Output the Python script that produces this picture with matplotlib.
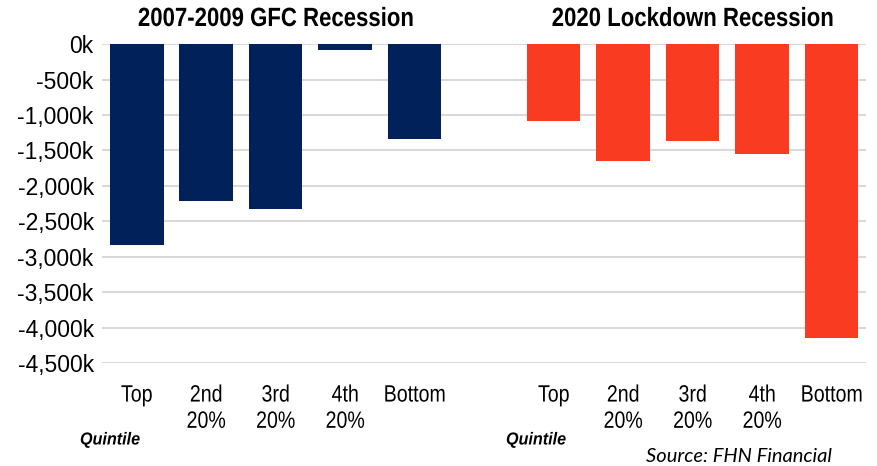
import matplotlib
matplotlib.use("Agg")
import matplotlib.pyplot as plt
from matplotlib.patheffects import AbstractPathEffect
from matplotlib.transforms import Affine2D
import numpy as np

# ---- data ----
categories = ["Top", "2nd\n20%", "3rd\n20%", "4th\n20%", "Bottom"]
gfc_values = [-2830, -2220, -2320, -80, -1340]          # thousands
lockdown_values = [-1080, -1650, -1370, -1550, -4150]   # thousands
yticks = [0, -500, -1000, -1500, -2000, -2500, -3000, -3500, -4000, -4500]
titles = ["2007-2009 GFC Recession", "2020 Lockdown Recession"]
source = "Source: FHN Financial"

font = "Liberation Sans"
navy = "#00215A"
red = "#F93B22"


class Squeeze(AbstractPathEffect):
    """Horizontally condense text around a display x position (narrow font look)."""
    def __init__(self, sx, cx):
        super().__init__()
        self.sx = sx
        self.cx = cx

    def draw_path(self, renderer, gc, tpath, affine, rgbFace=None):
        t = affine + Affine2D().translate(-self.cx, 0).scale(self.sx, 1).translate(self.cx, 0)
        renderer.draw_path(gc, tpath, t, rgbFace)


W, H = 877, 466
fig = plt.figure(figsize=(W / 100, H / 100), dpi=100)
ax = fig.add_axes([0.1163, 0.221, 0.8717, 0.6844])

n = len(categories)
x_gfc = np.arange(n)
x_lock = np.arange(n) + n + 1
ax.bar(x_gfc, gfc_values, width=0.77, color=navy, zorder=3)
ax.bar(x_lock, lockdown_values, width=0.77, color=red, zorder=3)

ax.set_xlim(-0.5, 2 * n + 0.5)
ax.set_ylim(-4500, 0)
ax.set_yticks(yticks)
ax.set_yticklabels([f"{v:,}k" for v in yticks], fontsize=16.5, family=font, color="black")
xpos = list(x_gfc) + list(x_lock)
ax.set_xticks(xpos)
ax.set_xticklabels(categories * 2, fontsize=17, family=font, color="black",
                   linespacing=1.25, va="top")
ax.tick_params(axis="x", length=0, pad=15.5)
ax.tick_params(axis="y", length=0, pad=6)
for s in ax.spines.values():
    s.set_visible(False)
ax.grid(axis="y", color="#D9D9D9", linewidth=1.5, zorder=0)
ax.set_axisbelow(True)

# condense x tick labels
for lbl, xp in zip(ax.get_xticklabels(), xpos):
    cx = ax.transData.transform((xp, 0))[0]
    lbl.set_path_effects([Squeeze(0.83, cx)])

# titles
for title, xc in [(titles[0], 2), (titles[1], n + 1 + 2)]:
    cx = ax.transData.transform((xc, 0))[0]
    t = fig.text(cx / W, 1 - 19 / H, title, ha="center", va="center", fontsize=19,
                 fontweight="bold", family=font)
    t.set_path_effects([Squeeze(0.84, cx)])

# Quintile labels
for xl in (80, 506):
    t = fig.text(xl / W, 1 - 440 / H, "Quintile", ha="left", va="center", fontsize=12.5,
                 fontweight="bold", style="italic", family=font)
    t.set_path_effects([Squeeze(0.93, xl)])

fig.text(832 / W, 1 - 457 / H, source, ha="right", va="center", fontsize=14.5,
         style="italic", family="Lato")

fig.savefig("out.png", dpi=100)
